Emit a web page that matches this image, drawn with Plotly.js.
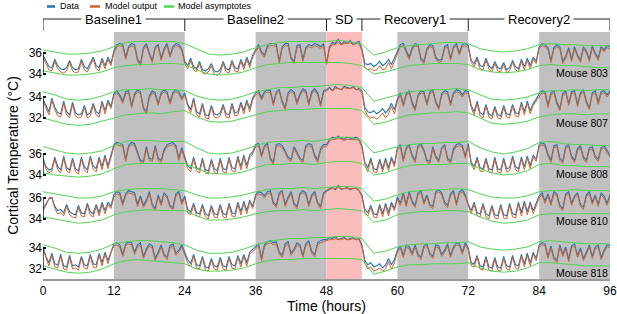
<!DOCTYPE html>
<html><head><meta charset="utf-8">
<script src="https://cdn.plot.ly/plotly-3.0.1.min.js"></script>
<style>html,body{margin:0;padding:0;background:#fff}#chart{width:617px;height:314px}</style>
</head><body><div id="chart"></div>
<script>
// ---------------- DATA ----------------
const mice = ['Mouse 803','Mouse 807','Mouse 808','Mouse 810','Mouse 818'];
const yTickValues = [[36,34],[34,32],[36,34],[36,34],[34,32]];
const xTickValues = [0,12,24,36,48,60,72,84,96];
const periodNames = ['Baseline1','Baseline2','SD','Recovery1','Recovery2'];
const periodBounds = [0,24,48,54,72,96];
const darkPeriods = [[12,24],[36,48],[60,72],[84,96]];
const sdPeriod = [48,54];
const dataStepHours = 0.5;   // sampling of data / model series
const asymStepHours = 2;     // sampling of asymptote series

const data803 = [35.8,35.2,34.7,34.6,35.4,34.8,34.5,34.4,34.6,35.3,34.6,34.4,34.5,35.4,34.7,34.5,35.1,35.6,34.8,34.6,35.5,34.8,35.6,35.0,
36.2,36.8,36.9,36.8,35.6,36.6,36.9,36.8,35.4,35.0,36.5,36.9,36.0,35.3,36.6,36.8,35.5,36.4,36.9,35.8,36.6,36.9,36.8,36.4,
35.2,34.8,35.5,34.7,34.5,35.2,34.4,34.3,34.5,35.0,34.3,34.2,34.4,35.2,34.5,34.4,35.3,34.6,34.5,35.4,34.7,35.6,34.9,35.8,
36.3,36.8,36.1,35.8,36.7,36.9,36.9,36.8,35.2,36.6,36.9,36.9,35.6,35.2,36.7,36.8,35.4,36.5,36.8,36.7,36.9,36.8,36.6,36.9,
35.0,36.6,37.0,36.9,37.3,36.8,37.1,36.9,37.2,36.8,37.0,37.1,
36.4,35.0,34.9,35.0,34.7,34.9,35.2,34.8,35.0,35.4,34.9,35.5,
36.2,36.8,36.9,36.3,35.6,36.5,36.9,36.8,35.5,35.2,36.4,36.8,36.7,35.6,35.3,35.4,36.6,36.8,35.5,36.6,36.9,36.0,36.8,36.9,
36.7,35.3,35.0,35.6,34.8,34.7,35.5,34.8,34.5,35.2,34.6,34.5,35.1,34.4,34.6,35.3,34.7,34.5,35.4,34.7,35.5,34.8,35.6,35.2,
36.6,36.9,36.8,36.5,35.3,36.5,36.8,36.6,35.2,35.7,36.5,35.4,36.6,35.8,35.3,36.6,36.2,35.4,36.7,36.0,35.5,36.6,36.3,36.7,36.6];
const model803 = [35.6,35.0,34.4,34.3,35.2,34.5,34.2,34.1,34.3,35.1,34.3,34.1,34.2,35.2,34.4,34.2,34.8,35.4,34.5,34.3,35.3,34.5,35.4,34.8,
36.0,36.6,36.7,36.6,35.4,36.4,36.7,36.6,35.2,34.8,36.3,36.7,35.8,35.1,36.4,36.6,35.3,36.2,36.7,35.6,36.4,36.7,36.6,36.2,
35.0,34.5,35.3,34.4,34.2,35.0,34.1,34.0,34.2,34.8,34.0,33.9,34.1,35.0,34.2,34.1,35.1,34.3,34.2,35.2,34.4,35.4,34.6,35.6,
36.1,36.6,35.9,35.6,36.5,36.7,36.7,36.6,35.0,36.4,36.7,36.7,35.4,35.0,36.5,36.6,35.2,36.3,36.6,36.5,36.7,36.6,36.4,36.7,
34.9,36.4,36.8,36.8,37.0,36.8,36.9,36.9,37.0,36.8,36.9,36.9,
36.2,34.6,34.4,34.5,34.3,34.4,34.8,34.4,34.5,35.1,34.5,35.2,
36.0,36.6,36.7,36.1,35.4,36.3,36.7,36.6,35.3,35.0,36.2,36.6,36.5,35.4,35.1,35.2,36.4,36.6,35.3,36.4,36.7,35.8,36.6,36.7,
36.5,35.1,34.7,35.4,34.5,34.4,35.3,34.5,34.2,35.0,34.3,34.2,34.9,34.1,34.3,35.1,34.4,34.2,35.2,34.4,35.3,34.5,35.4,35.0,
36.4,36.7,36.6,36.3,35.1,36.3,36.6,36.4,35.0,35.5,36.3,35.2,36.4,35.6,35.1,36.4,36.0,35.2,36.5,35.8,35.3,36.4,36.1,36.5,36.4];
const upper803 = [36.3,36.1,35.9,35.9,36.0,36.2,36.6,37.0,37.1,37.1,37.1,37.1,36.9,36.4,35.9,35.8,35.9,36.1,36.5,36.8,37.0,37.1,37.1,37.1,37.1,37.2,37.1,36.8,35.8,36.1,36.5,36.7,36.8,36.9,37.0,37.0,36.9,36.4,36.2,36.1,36.2,36.4,36.8,36.9,36.8,36.8,36.7,36.7,36.7];
const lower803 = [34.3,34.1,33.9,33.9,34.0,34.2,34.6,34.8,34.9,34.9,35.0,35.0,34.9,34.4,34.0,33.9,34.0,34.2,34.6,34.9,35.0,35.1,35.1,35.1,35.1,35.1,35.0,34.8,34.0,34.2,34.5,34.8,34.9,35.0,35.0,35.0,34.9,34.4,34.2,34.1,34.2,34.4,34.8,34.9,34.8,34.8,34.7,34.6,34.6];

const data807 = [33.8,33.2,32.6,33.9,33.0,32.5,32.4,33.6,32.6,32.3,33.5,32.5,32.3,32.4,33.2,32.3,32.5,33.4,32.6,32.4,33.6,32.7,33.7,33.1,
34.3,34.6,34.2,33.6,34.5,34.6,33.2,34.3,34.7,34.5,33.0,32.6,34.1,34.6,34.4,33.4,34.4,34.7,34.5,33.5,34.4,34.7,34.5,33.9,
34.4,33.3,32.8,33.9,32.6,32.4,33.4,32.3,32.2,33.2,32.4,32.3,32.5,33.3,32.4,32.3,33.4,32.5,32.6,33.5,32.7,33.7,32.9,33.9,
34.4,34.6,33.9,34.5,34.7,34.6,33.4,34.5,34.7,33.6,33.0,34.4,34.7,34.5,33.5,34.3,34.8,34.6,33.4,34.5,34.8,34.4,33.3,34.6,
34.7,34.9,34.6,35.0,34.8,34.7,35.0,34.9,34.8,35.0,34.7,34.8,
34.6,33.0,32.6,32.5,32.7,32.4,32.6,32.9,32.5,32.8,33.4,32.8,
33.8,34.4,33.3,34.3,34.6,33.5,32.9,34.2,34.6,34.5,33.4,34.5,34.7,33.6,33.0,34.3,34.6,34.5,33.4,34.4,34.7,34.6,34.2,34.6,
34.5,33.2,32.6,33.6,32.5,32.3,33.3,32.4,32.2,33.1,32.3,32.2,33.2,32.4,32.3,33.3,32.5,32.4,33.5,32.6,33.6,32.7,33.4,33.8,
34.3,34.6,34.5,33.2,34.4,34.6,33.5,32.9,34.3,34.6,33.4,34.5,34.6,33.3,34.4,34.7,33.6,33.0,34.4,34.6,33.5,34.5,34.6,34.2,34.6];
const model807 = [33.6,33.0,32.3,33.7,32.8,32.2,32.1,33.4,32.3,32.0,33.3,32.2,32.0,32.1,33.0,32.0,32.2,33.2,32.3,32.1,33.4,32.4,33.5,32.9,
34.1,34.4,34.0,33.4,34.3,34.4,33.0,34.1,34.5,34.3,32.8,32.4,33.9,34.4,34.2,33.2,34.2,34.5,34.3,33.3,34.2,34.5,34.3,33.7,
34.2,33.1,32.5,33.7,32.3,32.1,33.2,32.0,31.9,33.0,32.1,32.0,32.2,33.1,32.1,32.0,33.2,32.2,32.3,33.3,32.4,33.5,32.6,33.7,
34.2,34.4,33.7,34.3,34.5,34.4,33.2,34.3,34.5,33.4,32.8,34.2,34.5,34.3,33.3,34.1,34.6,34.4,33.2,34.3,34.6,34.2,33.1,34.4,
34.6,34.8,34.6,34.8,34.8,34.7,34.9,34.8,34.8,34.9,34.7,34.7,
34.4,32.7,32.2,32.0,32.1,31.9,32.1,32.5,32.0,32.4,33.1,32.4,
33.6,34.2,33.1,34.1,34.4,33.3,32.7,34.0,34.4,34.3,33.2,34.3,34.5,33.4,32.8,34.1,34.4,34.3,33.2,34.2,34.5,34.4,34.0,34.4,
34.3,33.0,32.3,33.4,32.2,32.0,33.1,32.1,31.9,32.9,32.0,31.9,33.0,32.1,32.0,33.1,32.2,32.1,33.3,32.3,33.4,32.4,33.2,33.6,
34.1,34.4,34.3,33.0,34.2,34.4,33.3,32.7,34.1,34.4,33.2,34.3,34.4,33.1,34.2,34.5,33.4,32.8,34.2,34.4,33.3,34.3,34.4,34.0,34.4];
const upper807 = [34.5,34.2,33.8,33.7,33.8,34.1,34.5,34.7,34.7,34.8,34.7,34.7,34.6,34.1,33.8,33.7,33.8,34.1,34.5,34.7,34.9,34.9,35.0,35.0,35.1,35.2,35.1,34.9,33.6,33.9,34.2,34.5,34.6,34.7,34.7,34.8,34.7,34.2,33.8,33.7,33.8,34.0,34.4,34.6,34.6,34.7,34.6,34.7,34.7];
const lower807 = [32.0,31.7,31.4,31.3,31.4,31.7,32.0,32.3,32.4,32.5,32.4,32.6,32.7,32.1,31.7,31.6,31.7,32.0,32.3,32.6,32.7,32.8,32.8,32.9,32.9,32.9,32.9,32.7,31.4,31.6,32.0,32.3,32.4,32.5,32.5,32.6,32.5,32.0,31.5,31.4,31.5,31.7,32.1,32.3,32.4,32.4,32.3,32.4,32.4];

const data808 = [35.6,34.8,34.5,34.6,35.7,34.8,34.5,35.8,34.7,34.5,35.6,34.6,34.4,35.7,34.8,34.5,35.8,34.9,34.6,35.7,34.8,35.9,34.9,35.8,
36.9,37.1,37.0,36.9,35.5,36.8,37.1,37.0,36.2,35.4,35.3,36.7,35.6,35.5,36.8,35.6,35.4,36.4,36.9,37.0,37.1,36.8,35.6,36.6,
35.8,34.9,34.6,35.7,34.7,34.5,35.6,34.5,34.4,35.5,34.6,34.4,35.6,34.6,34.5,35.7,34.7,34.6,35.8,34.8,35.9,34.9,35.9,36.2,
36.9,37.0,35.9,36.8,37.0,35.6,35.2,36.9,37.0,36.8,36.3,35.7,35.5,36.7,36.2,35.6,35.4,36.8,37.0,36.9,35.9,35.4,36.5,36.9,
36.9,37.4,37.6,37.5,37.7,37.5,37.4,37.6,37.5,37.5,37.6,37.4,
36.8,35.2,34.7,35.6,34.6,34.5,35.5,34.6,35.6,34.7,35.7,35.0,
36.6,36.9,35.5,36.6,36.9,35.9,35.4,36.8,37.0,36.4,35.4,35.3,36.7,35.8,35.4,36.6,36.9,35.6,35.3,36.5,36.9,37.0,36.8,35.8,
37.0,35.2,34.8,35.7,34.7,34.6,35.6,34.6,34.5,35.7,34.6,34.5,35.6,34.6,34.7,35.8,34.8,34.6,35.7,34.8,35.8,34.9,35.9,35.5,
36.9,37.1,36.9,36.0,35.4,36.8,36.9,35.6,35.3,36.7,36.9,35.8,35.4,36.5,36.8,35.7,35.4,36.6,36.7,35.8,35.5,36.6,36.8,36.3,35.9];
const model808 = [35.4,34.6,34.2,34.4,35.5,34.5,34.2,35.6,34.4,34.2,35.4,34.3,34.1,35.5,34.5,34.2,35.6,34.6,34.3,35.5,34.5,35.7,34.6,35.6,
36.7,36.9,36.8,36.7,35.3,36.6,36.9,36.8,36.0,35.2,35.1,36.5,35.4,35.3,36.6,35.4,35.2,36.2,36.7,36.8,36.9,36.6,35.4,36.4,
35.6,34.6,34.3,35.5,34.4,34.2,35.4,34.2,34.1,35.3,34.3,34.1,35.4,34.3,34.2,35.5,34.4,34.3,35.6,34.5,35.7,34.6,35.7,36.0,
36.7,36.8,35.7,36.6,36.8,35.4,35.0,36.7,36.8,36.6,36.1,35.5,35.3,36.5,36.0,35.4,35.2,36.6,36.8,36.7,35.7,35.2,36.3,36.7,
36.7,37.2,37.4,37.4,37.5,37.4,37.3,37.4,37.4,37.4,37.4,37.3,
36.6,35.0,34.3,35.4,34.3,34.2,35.3,34.3,35.4,34.4,35.5,34.8,
36.4,36.7,35.3,36.4,36.7,35.7,35.2,36.6,36.8,36.2,35.2,35.1,36.5,35.6,35.2,36.4,36.7,35.4,35.1,36.3,36.7,36.8,36.6,35.6,
36.8,35.0,34.5,35.5,34.4,34.3,35.4,34.3,34.2,35.5,34.3,34.2,35.4,34.3,34.4,35.6,34.5,34.3,35.5,34.5,35.6,34.6,35.7,35.3,
36.7,36.9,36.7,35.8,35.2,36.6,36.7,35.4,35.1,36.5,36.7,35.6,35.2,36.3,36.6,35.5,35.2,36.4,36.5,35.6,35.3,36.4,36.6,36.1,35.7];
const upper808 = [36.7,36.4,36.1,36.0,36.1,36.3,36.8,37.2,37.3,37.3,37.2,37.2,37.2,36.6,36.1,36.0,36.1,36.4,36.8,37.1,37.2,37.2,37.3,37.2,37.4,37.6,37.6,37.3,36.1,36.4,36.7,36.9,37.0,37.0,37.1,37.1,37.2,36.6,36.2,36.0,36.2,36.5,37.1,37.2,37.0,36.9,36.9,36.8,36.8];
const lower808 = [34.2,34.0,33.9,33.8,33.9,34.1,34.6,35.0,35.1,35.1,35.1,35.1,35.1,34.6,34.2,34.1,34.1,34.3,34.7,35.0,35.0,35.1,35.1,35.0,35.2,35.3,35.3,35.1,34.0,34.2,34.6,34.9,35.0,35.0,35.0,35.1,35.1,34.6,34.2,34.0,34.1,34.4,35.0,35.1,34.9,34.9,34.8,34.8,34.8];

const data810 = [35.0,35.4,35.9,36.0,35.2,34.8,34.9,34.6,35.4,34.7,34.5,34.4,35.3,34.6,34.5,35.5,34.7,34.5,35.4,34.6,35.6,34.8,35.6,35.2,
36.3,36.6,36.5,35.5,36.4,36.7,36.6,36.5,35.4,36.2,35.3,35.8,36.6,35.4,35.0,36.3,35.5,36.5,36.2,35.3,35.1,36.4,36.6,35.6,
36.2,34.9,34.7,35.5,34.6,34.5,35.4,34.5,34.3,35.3,34.5,34.4,35.4,34.5,34.4,35.5,34.6,34.5,35.6,34.7,35.7,34.8,35.8,35.2,
36.3,36.6,36.5,36.2,36.6,36.7,35.6,35.3,36.5,36.7,35.4,36.1,36.6,35.5,35.2,36.4,36.7,36.5,35.4,36.3,36.6,35.6,35.2,36.5,
36.7,36.9,37.0,36.8,37.2,36.8,36.9,37.0,36.8,36.9,37.0,36.7,
36.3,34.9,34.6,35.3,34.5,34.4,35.4,34.5,35.5,34.6,35.6,35.0,
36.1,35.5,36.5,35.4,36.6,35.7,35.3,36.5,36.7,35.6,36.3,35.4,35.2,36.6,36.8,36.5,35.6,35.3,36.4,36.7,35.5,36.6,36.8,36.3,
35.4,34.8,35.6,34.6,34.5,35.5,34.5,34.3,35.3,34.4,34.3,35.4,34.4,34.3,35.5,34.5,34.4,35.6,34.6,35.7,34.7,35.6,34.8,35.5,
36.2,36.5,35.7,36.4,35.5,36.6,36.4,35.3,35.0,36.4,36.6,35.5,36.2,36.5,35.4,35.1,36.3,36.6,35.6,36.3,35.4,36.5,36.2,35.5,36.3];
const model810 = [34.8,35.3,36.0,36.1,35.0,34.5,34.6,34.3,35.2,34.4,34.2,34.1,35.1,34.3,34.2,35.3,34.4,34.2,35.2,34.3,35.4,34.5,35.4,35.0,
36.1,36.4,36.3,35.3,36.2,36.5,36.4,36.3,35.2,36.0,35.1,35.6,36.4,35.2,34.8,36.1,35.3,36.3,36.0,35.1,34.9,36.2,36.4,35.4,
36.0,34.6,34.4,35.3,34.3,34.2,35.2,34.2,34.0,35.1,34.2,34.1,35.2,34.2,34.1,35.3,34.3,34.2,35.4,34.4,35.5,34.5,35.6,35.0,
36.1,36.4,36.3,36.0,36.4,36.5,35.4,35.1,36.3,36.5,35.2,35.9,36.4,35.3,35.0,36.2,36.5,36.3,35.2,36.1,36.4,35.4,35.0,36.3,
36.6,36.8,36.9,36.9,37.0,36.9,36.9,36.9,36.9,36.9,36.9,36.7,
36.1,34.6,34.3,35.1,34.2,34.1,35.2,34.2,35.3,34.3,35.4,34.8,
35.9,35.3,36.3,35.2,36.4,35.5,35.1,36.3,36.5,35.4,36.1,35.2,35.0,36.4,36.6,36.3,35.4,35.1,36.2,36.5,35.3,36.4,36.6,36.1,
35.2,34.5,35.4,34.3,34.2,35.3,34.2,34.0,35.1,34.1,34.0,35.2,34.1,34.0,35.3,34.2,34.1,35.4,34.3,35.5,34.4,35.4,34.5,35.3,
36.0,36.3,35.5,36.2,35.3,36.4,36.2,35.1,34.8,36.2,36.4,35.3,36.0,36.3,35.2,34.9,36.1,36.4,35.4,36.1,35.2,36.3,36.0,35.3,36.1];
const upper810 = [36.6,36.4,36.2,36.0,36.0,36.2,36.6,36.8,36.9,36.9,36.9,36.8,36.7,36.3,36.0,36.0,36.1,36.3,36.6,36.8,36.9,36.9,37.0,36.9,37.0,37.1,37.1,36.9,35.7,35.9,36.3,36.6,36.7,36.8,36.8,36.9,36.8,36.4,36.1,36.0,36.0,36.2,36.6,36.7,36.7,36.8,36.7,36.7,36.7];
const lower810 = [34.2,34.0,33.8,33.6,33.7,33.9,34.4,34.7,34.8,34.9,34.8,34.8,34.8,34.3,33.9,33.9,34.0,34.2,34.5,34.7,34.8,34.8,34.9,34.8,34.9,35.0,34.9,34.8,33.7,33.9,34.4,34.6,34.7,34.7,34.8,34.8,34.7,34.2,33.8,33.6,33.7,33.9,34.4,34.5,34.5,34.5,34.5,34.5,34.5];

const data818 = [34.1,33.2,32.6,33.5,32.5,32.4,33.4,32.3,32.2,33.3,32.3,32.4,32.2,33.2,32.4,32.3,33.4,32.5,32.4,33.5,32.6,33.6,32.8,33.7,
34.4,34.5,34.3,33.4,34.4,34.6,34.5,33.6,34.3,34.5,33.2,33.9,34.4,34.2,33.0,33.6,34.3,33.4,33.1,34.2,34.4,33.5,33.8,34.3,
33.6,32.9,32.5,33.4,32.4,32.3,33.2,32.2,32.1,33.0,32.3,32.2,33.1,32.3,32.2,33.2,32.4,32.3,33.3,32.5,33.4,32.6,33.6,33.9,
34.1,34.4,33.0,34.3,34.6,34.7,34.5,34.6,33.6,33.3,34.4,34.6,33.5,33.9,34.5,34.3,33.3,34.4,34.7,33.7,33.4,34.5,34.7,34.8,
34.8,35.0,34.9,35.1,34.8,34.9,35.0,34.8,34.9,35.0,34.8,34.9,
34.3,32.8,32.4,32.6,32.2,32.3,32.5,32.1,32.4,33.0,32.4,32.9,
33.8,34.2,33.3,34.3,34.1,33.5,34.3,33.4,33.1,34.2,34.4,33.5,33.2,34.3,34.2,33.4,33.8,34.4,33.3,34.1,34.5,34.4,33.6,34.5,
34.0,32.6,32.5,33.3,32.3,32.2,33.2,32.2,32.1,33.1,32.2,32.1,33.2,32.3,32.2,33.3,32.4,32.3,33.4,32.5,33.5,32.6,33.6,33.0,
34.3,34.5,34.4,33.2,34.2,33.1,32.8,34.3,33.4,34.1,32.9,34.2,34.4,33.3,34.0,33.0,33.6,34.3,33.2,34.1,34.3,33.1,33.8,34.3,34.2];
const model818 = [33.9,33.0,32.3,33.3,32.2,32.1,33.2,32.0,31.9,33.1,32.0,32.1,31.9,33.0,32.1,32.0,33.2,32.2,32.1,33.3,32.3,33.4,32.5,33.5,
34.2,34.3,34.1,33.2,34.2,34.4,34.3,33.4,34.1,34.3,33.0,33.7,34.2,34.0,32.8,33.4,34.1,33.2,32.9,34.0,34.2,33.3,33.6,34.1,
33.4,32.6,32.2,33.2,32.1,32.0,33.0,31.9,31.8,32.8,32.0,31.9,32.9,32.0,31.9,33.0,32.1,32.0,33.1,32.2,33.2,32.3,33.4,33.7,
33.9,34.2,32.8,34.1,34.4,34.5,34.3,34.4,33.4,33.1,34.2,34.4,33.3,33.7,34.3,34.1,33.1,34.2,34.5,33.5,33.2,34.3,34.5,34.6,
34.7,34.8,34.8,34.9,34.8,34.8,34.9,34.8,34.8,34.9,34.8,34.8,
34.1,32.5,32.0,32.2,31.8,31.9,32.1,31.8,32.0,32.7,32.0,32.6,
33.6,34.0,33.1,34.1,33.9,33.3,34.1,33.2,32.9,34.0,34.2,33.3,33.0,34.1,34.0,33.2,33.6,34.2,33.1,33.9,34.3,34.2,33.4,34.3,
33.8,32.3,32.2,33.1,32.0,31.9,33.0,31.9,31.8,32.9,31.9,31.8,33.0,32.0,31.9,33.1,32.1,32.0,33.2,32.2,33.3,32.3,33.4,32.8,
34.1,34.3,34.2,33.0,34.0,32.9,32.6,34.1,33.2,33.9,32.7,34.0,34.2,33.1,33.8,32.8,33.4,34.1,33.0,33.9,34.1,32.9,33.6,34.1,34.0];
const upper818 = [34.3,34.0,33.6,33.5,33.6,33.9,34.4,34.6,34.7,34.7,34.6,34.5,34.3,33.8,33.5,33.5,33.6,33.9,34.3,34.6,34.8,34.9,34.9,35.0,35.0,35.1,35.1,34.9,33.5,33.7,34.1,34.3,34.4,34.4,34.5,34.5,34.6,34.1,33.9,33.8,33.9,34.1,34.6,34.7,34.6,34.5,34.4,34.4,34.4];
const lower818 = [32.3,32.0,31.7,31.6,31.7,32.0,32.5,32.8,32.9,32.8,32.7,32.6,32.5,32.0,31.8,31.8,31.9,32.1,32.5,32.8,32.9,32.9,33.0,33.0,33.0,33.0,33.0,32.9,31.5,31.8,32.2,32.4,32.4,32.5,32.5,32.5,32.6,32.1,31.8,31.7,31.8,32.1,32.6,32.6,32.5,32.4,32.3,32.3,32.3];

const dataSeries = [data803, data807, data808, data810, data818];
const modelSeries = [model803, model807, model808, model810, model818];
const upperSeries = [upper803, upper807, upper808, upper810, upper818];
const lowerSeries = [lower803, lower807, lower808, lower810, lower818];

// ---------------- LAYOUT / STYLE ----------------
const W = 617, H = 314, ML = 43, MR = 7, MT = 32, MB = 35;
const PW = W - ML - MR, PH = H - MT - MB;
const px2x = p => (p - ML) / PW;          // pixel -> paper x
const px2y = p => (H - MB - p) / PH;      // pixel -> paper y
const rowOffset = [16.57, 14.38, 6.95, 2.76, 0];   // vertical stacking of rows (deg units)
const yRange = [31.05, 54.57];
const mouseLabelPx = [73, 123, 174, 220.5, 272.5];
const FONT = 'Liberation Sans, Arial, Helvetica, sans-serif';
const C_DATA = '#1f74b6', C_MODEL = '#d5602b', C_ASYM = '#52d452';

const traces = [];
for (let r = 0; r < mice.length; r++) {
  const off = rowOffset[r];
  const tD = dataSeries[r].map((_, i) => i * dataStepHours);
  const tM = modelSeries[r].map((_, i) => i * dataStepHours);
  const tA = upperSeries[r].map((_, i) => i * asymStepHours);
  const tL = lowerSeries[r].map((_, i) => i * asymStepHours);
  traces.push({x: tD, y: dataSeries[r].map(v => v + off), type: 'scatter', mode: 'lines',
    line: {color: C_DATA, width: 1.1}, name: 'Data', showlegend: false, hoverinfo: 'skip'});
  traces.push({x: tM, y: modelSeries[r].map(v => v + off), type: 'scatter', mode: 'lines',
    line: {color: C_MODEL, width: 1}, name: 'Model output', showlegend: false, hoverinfo: 'skip'});
  traces.push({x: tA, y: upperSeries[r].map(v => v + off), type: 'scatter', mode: 'lines',
    line: {color: C_ASYM, width: 1}, name: 'Model asymptotes', showlegend: false, hoverinfo: 'skip'});
  traces.push({x: tL, y: lowerSeries[r].map(v => v + off), type: 'scatter', mode: 'lines',
    line: {color: C_ASYM, width: 1}, name: 'Model asymptotes', showlegend: false, hoverinfo: 'skip'});
}

const shapes = [];
darkPeriods.forEach(([a, b]) => shapes.push({type: 'rect', xref: 'x', yref: 'paper', x0: a, x1: b, y0: 0, y1: 1,
  fillcolor: '#c0c0c0', line: {width: 0}, layer: 'below'}));
shapes.push({type: 'rect', xref: 'x', yref: 'paper', x0: sdPeriod[0], x1: sdPeriod[1], y0: 0, y1: 1,
  fillcolor: '#fbbcbc', line: {width: 0}, layer: 'below'});
// period brackets
const brY = px2y(19), brY2 = px2y(31);
shapes.push({type: 'line', xref: 'x', yref: 'paper', x0: periodBounds[0], x1: periodBounds[periodBounds.length - 1],
  y0: brY, y1: brY, line: {color: '#222', width: 1}});
periodBounds.forEach(b => shapes.push({type: 'line', xref: 'x', yref: 'paper', x0: b, x1: b, y0: brY, y1: brY2,
  line: {color: '#222', width: 1}}));
// per-row y axis segments
yTickValues.forEach((tv, r) => shapes.push({type: 'line', xref: 'x', yref: 'y', x0: 0, x1: 0,
  y0: tv[0] + rowOffset[r], y1: tv[1] + rowOffset[r], line: {color: '#000', width: 1.3}}));
// legend swatches
const legItems = [['Data', C_DATA, 47, 55, 58], ['Model output', C_MODEL, 90, 100, 103], ['Model asymptotes', C_ASYM, 164, 174, 176]];
legItems.forEach(it => shapes.push({type: 'line', xref: 'paper', yref: 'paper', x0: px2x(it[2]), x1: px2x(it[3]),
  y0: px2y(6.5), y1: px2y(6.5), line: {color: it[1], width: 2.5}}));

const annotations = [];
periodNames.forEach((n, i) => annotations.push({text: n, xref: 'x', yref: 'paper',
  x: (periodBounds[i] + periodBounds[i + 1]) / 2, y: brY, xanchor: 'center', yanchor: 'middle', showarrow: false,
  bgcolor: '#ffffff', borderpad: 3, font: {size: 13, color: '#000'}}));
mice.forEach((m, r) => annotations.push({text: m, xref: 'x', yref: 'paper', x: 96, y: px2y(mouseLabelPx[r]),
  xanchor: 'right', yanchor: 'middle', showarrow: false, font: {size: 10.5, color: '#000'}}));
legItems.forEach(it => annotations.push({text: it[0], xref: 'paper', yref: 'paper', x: px2x(it[4]), y: px2y(6.5),
  xanchor: 'left', yanchor: 'middle', showarrow: false, font: {size: 9, color: '#000'}}));

const tickVals = [], tickText = [];
yTickValues.forEach((tv, r) => tv.forEach(v => { tickVals.push(v + rowOffset[r]); tickText.push(String(v)); }));

const layout = {
  width: W, height: H, margin: {l: ML, r: MR, t: MT, b: MB, pad: 0},
  paper_bgcolor: '#fff', plot_bgcolor: '#fff', showlegend: false,
  font: {family: FONT, color: '#000', size: 12},
  xaxis: {range: [0, 96], tickvals: xTickValues, ticktext: xTickValues.map(String), showgrid: false, zeroline: false,
    showline: true, linecolor: '#9a9a9a', linewidth: 2, ticks: '', tickfont: {size: 12},
    title: {text: 'Time (hours)', font: {size: 14}, standoff: 2}, automargin: false, fixedrange: true},
  yaxis: {range: yRange, tickvals: tickVals, ticktext: tickText, showgrid: false, zeroline: false, showline: false,
    ticks: 'inside', ticklen: 3, tickwidth: 1.2, tickcolor: '#000', tickfont: {size: 12},
    title: {text: 'Cortical Temperature (°C)', font: {size: 14}, standoff: 6}, automargin: false, fixedrange: true},
  shapes: shapes, annotations: annotations
};
Plotly.newPlot('chart', traces, layout, {displayModeBar: false, staticPlot: true});
</script></body></html>
